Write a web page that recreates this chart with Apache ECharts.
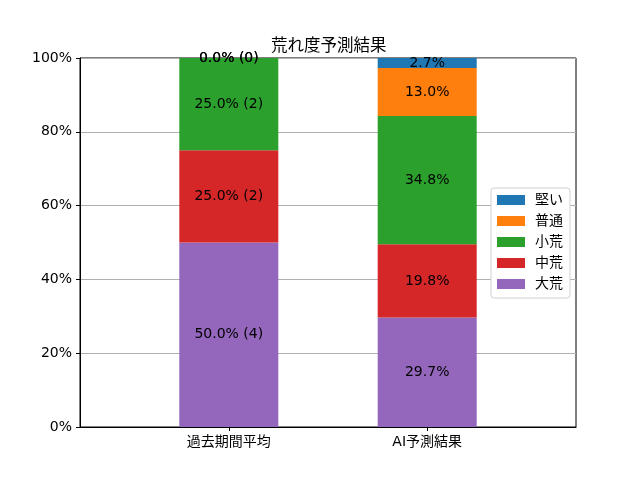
<!DOCTYPE html>
<html><head><meta charset="utf-8">
<script src="https://cdn.jsdelivr.net/npm/echarts@6/dist/echarts.min.js"></script>
<style>html,body{margin:0;padding:0;background:#fff}#c{width:640px;height:480px}</style>
</head><body><div id="c"></div>
<script>
const categories = ['過去期間平均', 'AI予測結果'];
const seriesNames = ['大荒', '中荒', '小荒', '普通', '堅い'];
const pastPct = [50.0, 25.0, 25.0, 0.0, 0.0];
const pastCounts = [4, 2, 2, 0, 0];
const aiPct = [29.7, 19.8, 34.8, 13.0, 2.7];
const colors = ['#9467bd', '#d62728', '#2ca02c', '#ff7f0e', '#1f77b4'];
const yTicks = [0, 20, 40, 60, 80, 100];

// padded slots so the two bars sit where matplotlib puts them (xlim -0.75..1.75)
const slots = ['', categories[0], '', categories[1], ''];
const slotIndex = [1, 3];

const FONT = '"DejaVu Sans", "Noto Sans CJK JP", sans-serif';
const chart = echarts.init(document.getElementById('c'));

const series = seriesNames.map((name, i) => {
  const data = slots.map(() => '-');
  data[slotIndex[0]] = pastPct[i];
  data[slotIndex[1]] = aiPct[i];
  return {
    name: name,
    type: 'bar',
    stack: 'total',
    barWidth: 99,
    itemStyle: { color: colors[i] },
    label: {
      show: true,
      position: 'inside',
      color: '#000',
      fontSize: 14,
      fontFamily: FONT,
      formatter: p => p.dataIndex === slotIndex[0]
        ? pastPct[i].toFixed(1) + '% (' + pastCounts[i] + ')'
        : aiPct[i].toFixed(1) + '%'
    },
    data: data
  };
});

chart.setOption({
  animation: false,
  textStyle: { fontFamily: FONT },
  title: {
    text: '荒れ度予測結果',
    left: 266, top: 33,
    textStyle: { fontSize: 16.5, fontWeight: 'normal', color: '#000', fontFamily: FONT }
  },
  grid: {
    left: 80, right: 64, top: 58, bottom: 53,
    show: true, borderColor: '#000', borderWidth: 1, backgroundColor: 'transparent'
  },
  legend: {
    orient: 'vertical',
    left: 491, top: 188,
    data: seriesNames.slice().reverse(),
    itemWidth: 28, itemHeight: 10, itemGap: 7,
    icon: 'rect',
    borderColor: '#d0d0d0', borderWidth: 1, borderRadius: 3,
    padding: [5, 7, 7, 6],
    backgroundColor: '#fff',
    textStyle: { fontSize: 14, color: '#000', fontFamily: FONT, padding: [0, 0, 0, 5] }
  },
  xAxis: {
    type: 'category',
    data: slots,
    boundaryGap: true,
    splitLine: { show: false },
    axisLine: { show: true, lineStyle: { color: '#000' } },
    axisTick: {
      show: true, alignWithLabel: true, length: 4,
      interval: idx => slotIndex.includes(idx),
      lineStyle: { color: '#000' }
    },
    axisLabel: {
      interval: 0,
      color: '#000', fontSize: 14, margin: 8, fontFamily: FONT
    }
  },
  yAxis: {
    type: 'value',
    min: 0, max: 100, interval: 20,
    axisLine: { show: true, onZero: false, lineStyle: { color: '#000' } },
    axisTick: { show: true, length: 4, lineStyle: { color: '#000' } },
    axisLabel: {
      formatter: v => yTicks.includes(v) ? v + '%' : '',
      color: '#000', fontSize: 14, margin: 8, fontFamily: FONT
    },
    splitLine: { show: true, lineStyle: { color: '#b0b0b0', width: 1 } }
  },
  series: series
});
</script></body></html>
